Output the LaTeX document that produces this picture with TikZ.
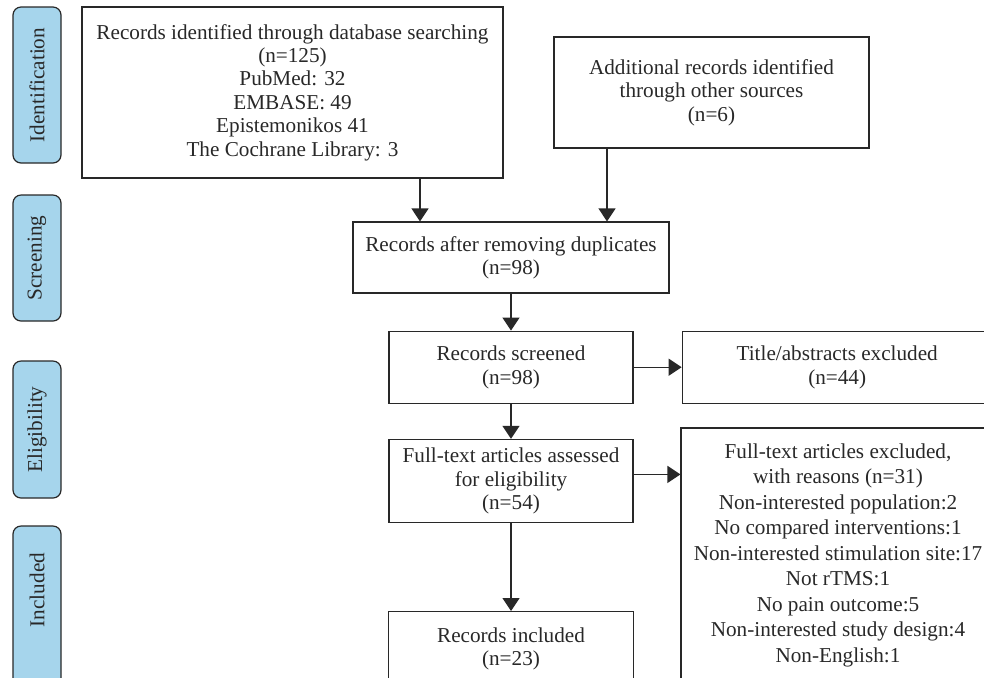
\documentclass[tikz,border=0pt]{standalone}
\usepackage{fontspec}
\setmainfont{Liberation Serif}
\usetikzlibrary{arrows.meta,positioning}
\definecolor{tabblue}{RGB}{166,213,236}
\definecolor{ink}{RGB}{40,40,40}

\begin{document}
\begin{tikzpicture}[x=0.5pt, y=-0.5pt, >={Triangle[width=8.5pt,length=6.5pt]},
  every node/.style={align=center, text=ink, font=\fontsize{10.6}{11.7}\selectfont},
  box/.style={draw=ink, line width=0.6pt, inner sep=2pt},
  tab/.style={draw=ink, fill=tabblue, line width=0.6pt, rounded corners=4pt, rotate=90, minimum height=24pt},
  arr/.style={->, draw=ink, line width=0.6pt}]
\useasboundingbox (0,0) rectangle (984,677);
\clip (0,0) rectangle (984,677);
% phase tabs
\node[tab, minimum width=78pt] (tId) at (37,85) {Identification};
\node[tab, minimum width=63pt] (tScr) at (37,258) {Screening};
\node[tab, minimum width=68.5pt] (tEli) at (37,429.5) {Eligibility};
\node[tab, minimum width=80pt] (tInc) at (37,606) {\hspace*{16pt}Included};
% flow boxes
\node[box, minimum width=210.5pt, minimum height=85.5pt] (db) at (292.5,92.5) {Records identified through database searching\\(n=125)\\PubMed: 32\\EMBASE: 49\\Epistemonikos 41\\The Cochrane Library: 3};
\node[box, minimum width=157.5pt, minimum height=55.5pt] (add) at (711.5,92.5) {Additional records identified\\through other sources\\(n=6)};
\node[box, minimum width=158pt, minimum height=35.5pt] (dup) at (511,257.5) {Records after removing duplicates\\(n=98)};
\node[box, minimum width=122pt, minimum height=36pt, below=18.5pt of dup] (scr) {Records screened\\(n=98)};
\node[box, minimum width=155pt, minimum height=36pt, right=24pt of scr] (tit) {Title/abstracts excluded\\(n=44)};
\node[box, minimum width=122pt, minimum height=41.5pt, below=17.5pt of scr] (full) {Full-text articles assessed\\for eligibility\\(n=54)};
\node[box, minimum width=157pt, minimum height=127pt, font=\fontsize{10.6}{12.75}\selectfont] (excl) at (838,555) {Full-text articles excluded,\\with reasons (n=31)\\Non-interested population:2\\No compared interventions:1\\Non-interested stimulation site:17\\Not rTMS:1\\No pain outcome:5\\Non-interested study design:4\\Non-English:1};
\node[box, minimum width=122.5pt, minimum height=37pt, below=44pt of full] (inc) {Records included\\(n=23)};
% connectors
\draw[arr] ([xshift=63.75pt]db.south) -- ([xshift=63.75pt]db.south |- dup.north);
\draw[arr] ([xshift=-52.25pt]add.south) -- ([xshift=-52.25pt]add.south |- dup.north);
\draw[arr] (dup) -- (scr); \draw[arr] (scr) -- (tit); \draw[arr] (scr) -- (full);
\draw[arr] ([yshift=3.25pt]full.east) -- ([yshift=3.25pt]full.east -| excl.west);
\draw[arr] (full) -- (inc);
\end{tikzpicture}
\end{document}
